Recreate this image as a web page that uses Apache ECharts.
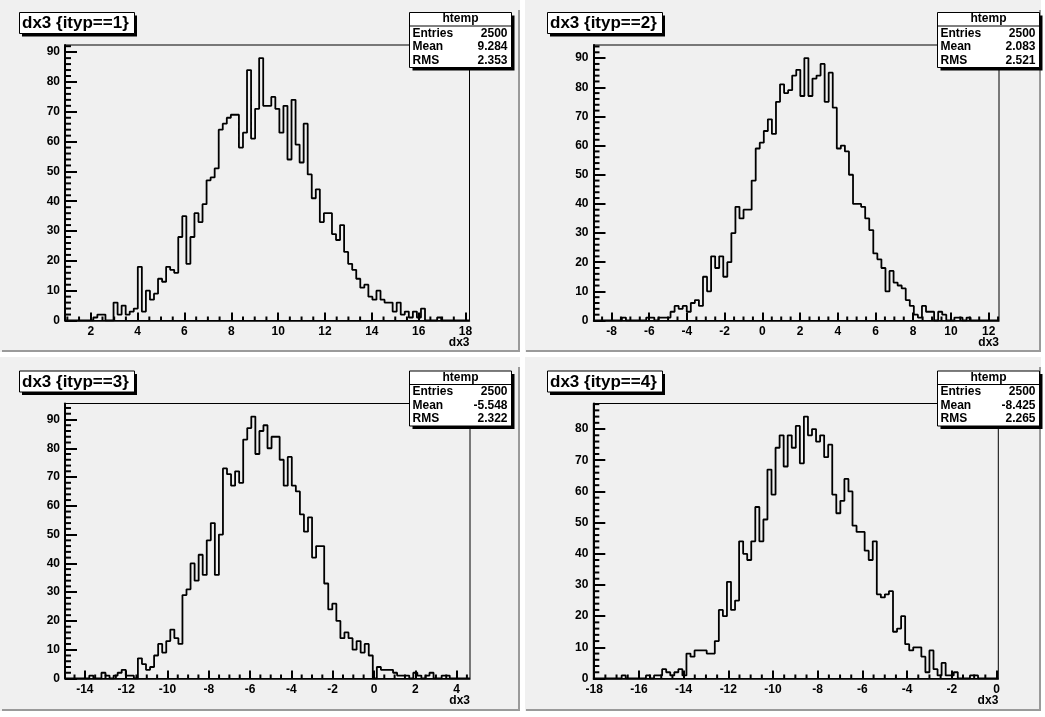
<!DOCTYPE html>
<html><head><meta charset="utf-8">
<script src="https://cdn.jsdelivr.net/npm/echarts@6/dist/echarts.min.js"></script>
<style>html,body{margin:0;padding:0;background:#f0f0f0}#c{width:1045px;height:717px}</style>
</head><body><div id="c"></div>
<script>
// ---------------- data ----------------
const titles = ['dx3 {ityp==1}', 'dx3 {ityp==2}', 'dx3 {ityp==3}', 'dx3 {ityp==4}'];
const xTitle = 'dx3';
const statsName = 'htemp';
const entries = ['2500', '2500', '2500', '2500'];
const means = ['9.284', '2.083', '-5.548', '-8.425'];
const rmss = ['2.353', '2.521', '2.322', '2.265'];
const xMin = [0.90, -8.955, -14.96, -18.04];
const xMax = [18.17, 12.55, 4.65, 0.08];
const xTicks1 = [2, 4, 6, 8, 10, 12, 14, 16, 18];
const xTicks2 = [-8, -6, -4, -2, 0, 2, 4, 6, 8, 10, 12];
const xTicks3 = [-14, -12, -10, -8, -6, -4, -2, 0, 2, 4];
const xTicks4 = [-18, -16, -14, -12, -10, -8, -6, -4, -2, 0];
const yTicks1 = [0, 10, 20, 30, 40, 50, 60, 70, 80, 90];
const yTicks2 = [0, 10, 20, 30, 40, 50, 60, 70, 80, 90];
const yTicks3 = [0, 10, 20, 30, 40, 50, 60, 70, 80, 90];
const yTicks4 = [0, 10, 20, 30, 40, 50, 60, 70, 80];
const counts1 = [
0,0,0,0,0,0,0,1,2,2,
0,0,6,2,5,2,3,4,18,3,
10,7,9,14,13,18,17,16,28,35,
19,28,36,33,39,47,48,51,64,66,
68,69,69,58,63,84,61,71,88,72,
72,75,71,63,72,54,74,59,53,66,
49,41,44,33,36,36,29,27,32,23,
19,17,14,11,12,8,7,10,7,6,
6,3,6,2,3,1,3,1,4,0,
0,0,1,0,0,0,0,0,0,0];
const counts2 = [
0,0,0,0,0,0,0,1,0,0,
0,0,0,1,1,0,1,1,1,3,
5,4,5,3,6,7,5,15,10,22,
18,22,15,20,30,39,35,38,38,48,
59,61,65,69,64,75,81,78,79,84,
86,77,90,77,83,84,88,75,85,73,
59,60,58,50,40,40,39,35,31,23,
21,18,10,17,13,12,11,7,5,2,
1,5,3,3,0,3,2,0,0,1,
1,0,1,0,0,0,0,0,0,0];
const counts3 = [
0,0,0,0,0,0,1,0,0,2,
1,0,1,2,3,1,1,0,7,5,
3,4,8,12,9,13,17,14,12,29,
31,40,34,43,36,48,54,36,50,73,
71,67,72,68,83,87,91,78,86,88,
80,84,84,76,67,77,67,65,57,51,
56,42,46,46,33,24,26,20,14,16,
14,10,13,9,12,8,0,4,3,3,
3,2,1,1,1,0,2,1,0,1,
2,0,0,1,1,0,0,0,0,0];
const counts4 = [
0,0,0,0,0,0,0,1,0,0,
0,0,0,1,0,1,1,3,2,1,
2,3,1,8,7,9,9,9,8,8,
12,22,20,31,22,25,44,40,38,44,
55,44,51,67,59,74,78,68,78,74,
81,69,84,78,80,76,78,71,75,59,
53,57,64,60,49,47,47,41,38,44,
27,26,27,28,15,16,20,11,9,10,
10,7,2,9,3,1,5,1,1,2,
0,0,0,1,1,0,0,0,0,0];

// ---------------- build ----------------
const counts = [counts1, counts2, counts3, counts4];
const xTicks = [xTicks1, xTicks2, xTicks3, xTicks4];
const yTicks = [yTicks1, yTicks2, yTicks3, yTicks4];
const FONT = "'Liberation Sans', Arial, Helvetica, sans-serif";
const TICK = '#000000', MINOR = '#000000';

const frames = [
  {l: 65,    t: 45,    w: 404.5, h: 275.5},
  {l: 593.5, t: 45,    w: 405.5, h: 275.5},
  {l: 65,    t: 403.5, w: 405,   h: 275},
  {l: 593.3, t: 403.5, w: 405,   h: 275}
];
const padOff = [[0, 0], [528, 0], [0, 358.5], [528, 358.5]];

function histData(c, a, b) {
  const n = c.length, w = (b - a) / n;
  const d = [[a, 0]];
  for (let k = 0; k < n; k++) d.push([a + k * w, c[k]]);
  d.push([b, c[n - 1]]);
  d.push([b, 0]);
  return d;
}
function minorX(a, b) {
  const r = [];
  for (let m = Math.ceil(a * 2); m <= Math.floor(b * 2); m++) if (Math.abs(m % 4) !== 0) r.push([m / 2, 0]);
  return r;
}
function minorY(a, top) {
  const r = [];
  for (let v = 2; v < top; v += 2) if (v % 10 !== 0) r.push([a, v]);
  return r;
}

const grid = [], xAxis = [], yAxis = [], series = [];
const graphic = [
  {type: 'rect', silent: true, shape: {x: 520, y: 0, width: 5, height: 717}, style: {fill: '#ffffff'}},
  {type: 'rect', silent: true, shape: {x: 0, y: 352, width: 1045, height: 5}, style: {fill: '#ffffff'}},
  {type: 'rect', silent: true, shape: {x: 1041, y: 0, width: 4, height: 717}, style: {fill: '#ffffff'}},
  {type: 'rect', silent: true, shape: {x: 0, y: 711, width: 1045, height: 6}, style: {fill: '#ffffff'}},
  {type: 'polyline', silent: true, shape: {points: [[519, 10], [519, 351], [2, 351]]}, style: {stroke: '#9a9a9a', lineWidth: 2, fill: null}},
  {type: 'polyline', silent: true, shape: {points: [[1040, 10], [1040, 351], [526, 351]]}, style: {stroke: '#9a9a9a', lineWidth: 2, fill: null}},
  {type: 'polyline', silent: true, shape: {points: [[519, 367], [519, 710], [2, 710]]}, style: {stroke: '#9a9a9a', lineWidth: 2, fill: null}},
  {type: 'polyline', silent: true, shape: {points: [[1040, 367], [1040, 710], [526, 710]]}, style: {stroke: '#9a9a9a', lineWidth: 2, fill: null}}
];
for (let i = 0; i < 4; i++) {
  const f = frames[i];
  const yTop = Math.max.apply(null, counts[i]) * 1.05;
  grid.push({left: f.l, top: f.t, width: f.w, height: f.h, show: true,
    borderColor: '#000', borderWidth: 1, containLabel: false});
  const lab = {color: '#000', fontWeight: 'bold', fontSize: 12, fontFamily: FONT};
  xAxis.push({type: 'value', gridIndex: i, min: xMin[i], max: xMax[i],
    axisLine: {show: true, onZero: false, lineStyle: {color: '#000', width: 1.5}},
    axisTick: {show: true, inside: true, length: 8, customValues: xTicks[i], lineStyle: {color: TICK, width: 2}},
    axisLabel: Object.assign({show: true, margin: 5, customValues: xTicks[i]}, lab),
    splitLine: {show: false}});
  yAxis.push({type: 'value', gridIndex: i, min: 0, max: yTop,
    axisLine: {show: true, onZero: false, lineStyle: {color: '#000', width: 2}},
    axisTick: {show: true, inside: true, length: 12, customValues: yTicks[i], lineStyle: {color: TICK, width: 2}},
    axisLabel: Object.assign({show: true, margin: 5, customValues: yTicks[i]}, lab),
    splitLine: {show: false}});
  series.push({type: 'line', xAxisIndex: i, yAxisIndex: i, data: histData(counts[i], xMin[i], xMax[i]),
    step: 'end', symbol: 'none', silent: true, lineStyle: {color: '#000', width: 1.8}});
  series.push({type: 'custom', xAxisIndex: i, yAxisIndex: i,
    data: minorX(xMin[i], xMax[i]),
    renderItem: function (params, api) {
      const q = api.coord([api.value(0), api.value(1)]);
      return {type: 'line', shape: {x1: q[0], y1: q[1], x2: q[0], y2: q[1] - 4}, style: {stroke: MINOR, lineWidth: 2}};
    }});
  series.push({type: 'custom', xAxisIndex: i, yAxisIndex: i,
    data: minorY(xMin[i], yTop),
    renderItem: function (params, api) {
      const q = api.coord([api.value(0), api.value(1)]);
      return {type: 'line', shape: {x1: q[0], y1: q[1], x2: q[0] + 6, y2: q[1]}, style: {stroke: MINOR, lineWidth: 2}};
    }});

  const [dx, dy] = padOff[i];
  graphic.push({type: 'rect', z: 50, silent: true, shape: {x: 22 + dx, y: 15.5 + dy, width: 115, height: 21}, style: {fill: '#000'}});
  graphic.push({type: 'rect', z: 51, silent: true, shape: {x: 19.5 + dx, y: 12.5 + dy, width: 115, height: 21},
    style: {fill: '#fff', stroke: '#000', lineWidth: 1}});
  graphic.push({type: 'text', z: 52, silent: true, x: 22 + dx, y: 23.5 + dy,
    style: {text: titles[i], fill: '#000', fontSize: 17, fontWeight: 'bold', fontFamily: FONT, align: 'left', verticalAlign: 'middle'}});
  const sx = 409.5 + dx, sy = 12.5 + dy, sw = 102, sh = 55;
  graphic.push({type: 'rect', z: 50, silent: true, shape: {x: sx + 3, y: sy + 3, width: sw, height: sh}, style: {fill: '#000'}});
  graphic.push({type: 'rect', z: 51, silent: true, shape: {x: sx, y: sy, width: sw, height: sh},
    style: {fill: '#fff', stroke: '#000', lineWidth: 1}});
  graphic.push({type: 'line', z: 52, silent: true, shape: {x1: sx, y1: sy + 13.5, x2: sx + sw, y2: sy + 13.5},
    style: {stroke: '#000', lineWidth: 1}});
  const st = {fill: '#000', fontSize: 12, fontWeight: 'bold', fontFamily: FONT, verticalAlign: 'middle'};
  graphic.push({type: 'text', z: 52, silent: true, x: sx + sw / 2, y: sy + 6.5, style: Object.assign({text: statsName, align: 'center'}, st)});
  const rows = [['Entries', entries[i]], ['Mean', means[i]], ['RMS', rmss[i]]];
  rows.forEach((r, k) => {
    const yy = sy + 21 + k * 13.5;
    graphic.push({type: 'text', z: 52, silent: true, x: sx + 3, y: yy, style: Object.assign({text: r[0], align: 'left'}, st)});
    graphic.push({type: 'text', z: 52, silent: true, x: sx + sw - 4, y: yy, style: Object.assign({text: r[1], align: 'right'}, st)});
  });
  graphic.push({type: 'text', z: 52, silent: true, x: f.l + f.w, y: f.t + f.h + 22,
    style: {text: xTitle, fill: '#000', fontSize: 12, fontWeight: 'bold', fontFamily: FONT, align: 'right', verticalAlign: 'middle'}});
}

const chart = echarts.init(document.getElementById('c'), null, {renderer: 'canvas'});
chart.setOption({animation: false, backgroundColor: '#f0f0f0', grid, xAxis, yAxis, series, graphic});
</script>
</body></html>
